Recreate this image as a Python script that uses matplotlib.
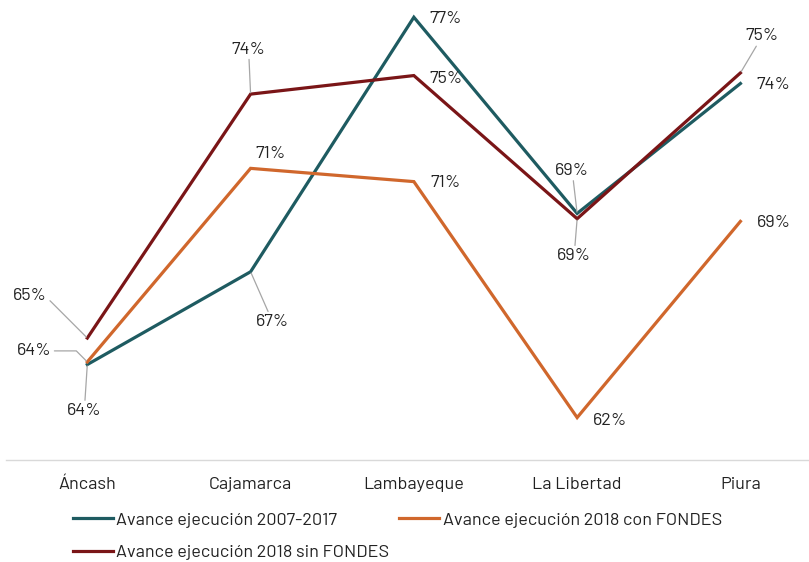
import matplotlib
matplotlib.use("Agg")
import matplotlib.pyplot as plt
from matplotlib import font_manager

# data
regions = ["Áncash", "Cajamarca", "Lambayeque", "La Libertad", "Piura"]
avance_2007_2017 = [63.7, 67.2, 76.8, 69.4, 74.3]
avance_2018_con = [63.8, 71.1, 70.6, 61.7, 69.1]
avance_2018_sin = [64.7, 73.9, 74.6, 69.2, 74.7]
series_names = [
    "Avance ejecución 2007-2017",
    "Avance ejecución 2018 con FONDES",
    "Avance ejecución 2018 sin FONDES",
]

TEAL = "#1E5B61"
ORANGE = "#D0672C"
RED = "#7A1517"
TEXT = "#222222"
LEADER = "#A6A6A6"

installed = {f.name for f in font_manager.fontManager.ttflist}
family = [f for f in ["Barlow", "Barlow Semi Condensed", "DejaVu Sans"] if f in installed]
plt.rcParams["font.family"] = family
plt.rcParams["font.size"] = 13

fig = plt.figure(figsize=(8.09, 5.62), dpi=100)
ax = fig.add_axes([0.007, 0.1815, 0.993, 0.8185])

x = list(range(len(regions)))
series = [avance_2007_2017, avance_2018_con, avance_2018_sin]
colors = [TEAL, ORANGE, RED]
handles = []
for vals, col, name in zip(series, colors, series_names):
    (h,) = ax.plot(x, vals, color=col, lw=2.3, solid_joinstyle="miter", label=name, zorder=3)
    handles.append(h)

ax.set_xlim(-0.5, 4.42)
ax.set_ylim(60.1, 77.45)

# label offsets in pixels (dx, dy) plus optional leader style
labels = {
    # (series index, category index): (dx, dy, leader)
    (0, 0): (-3, -46, "straight"),
    (1, 0): (-53, 11, "angle"),
    (2, 0): (-57, 43, "angle"),
    (0, 1): (22, -50, "straight"),
    (2, 1): (-2, 45, "straight"),
    (1, 1): (20, 15, None),
    (0, 2): (32, -1, None),
    (2, 2): (32, -3, None),
    (1, 2): (32, -1, None),
    (0, 3): (-5, 43, "straight"),
    (2, 3): (-3, -37, "straight"),
    (1, 3): (33, -3, None),
    (2, 4): (22, 37, "straight"),
    (0, 4): (33, -1, None),
    (1, 4): (33, -1, None),
}

for (si, ci), (dx, dy, leader) in labels.items():
    v = series[si][ci]
    txt = f"{round(v):.0f}%"
    kw = {}
    if leader == "straight":
        kw["arrowprops"] = dict(arrowstyle="-", color=LEADER, lw=0.9, shrinkA=0, shrinkB=1)
    elif leader == "angle":
        kw["arrowprops"] = dict(arrowstyle="-", color=LEADER, lw=0.9, shrinkA=0, shrinkB=1,
                                relpos=(1, 0.5),
                                connectionstyle="angle,angleA=0,angleB=135,rad=0")
    ax.annotate(txt, xy=(ci, v), xytext=(dx, dy), textcoords="offset pixels",
                ha="center", va="center", color=TEXT, zorder=4, **kw)

ax.set_xticks(x)
ax.set_xticklabels(regions, color=TEXT)
ax.tick_params(axis="x", length=0, pad=12)
ax.set_yticks([])
for side in ["top", "right", "left"]:
    ax.spines[side].set_visible(False)
ax.spines["bottom"].set_color("#D9D9D9")
ax.spines["bottom"].set_linewidth(1.0)

# legend row-major: two on first row, one below
fig.legend([handles[0], handles[2], handles[1]],
           [series_names[0], series_names[2], series_names[1]],
           ncol=2, loc="upper left", bbox_to_anchor=(0.09, 0.089),
           frameon=False, handlelength=2.2, handletextpad=0.2,
           columnspacing=0.55, labelspacing=0.95, borderaxespad=0, borderpad=0,
           labelcolor=TEXT)

fig.savefig("out.png", dpi=100)
